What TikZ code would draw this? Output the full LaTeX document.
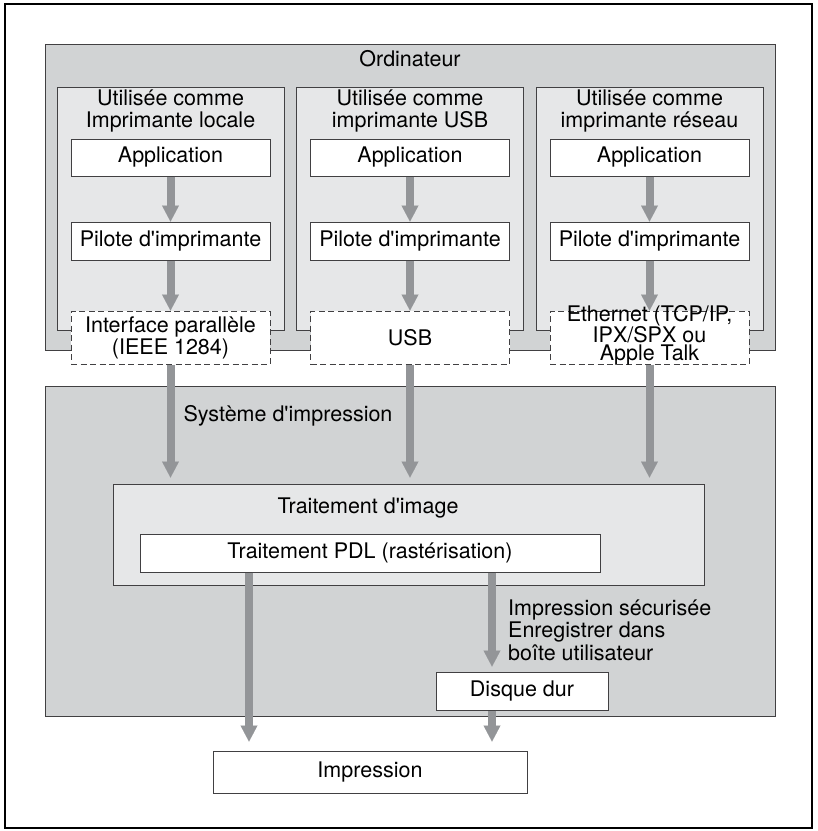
\documentclass[tikz,border=0pt]{standalone}
\usepackage{fontspec}
\newfontfamily\hv{TeX Gyre Heros}
\usetikzlibrary{arrows.meta,calc}
\definecolor{outergray}{HTML}{D1D3D4}
\definecolor{innergray}{HTML}{E6E7E8}
\definecolor{arrowgray}{HTML}{939598}
\definecolor{linegray}{HTML}{414042}
\begin{document}
\begin{tikzpicture}[x=1pt,y=-1pt,
  every node/.style={font=\hv\fontsize{21.5pt}{22pt}\selectfont, text=black, inner sep=0pt},
  panel/.style={draw=linegray, line width=1pt},
  whitebox/.style={draw=linegray, line width=1pt, fill=white},
  dashbox/.style={draw=linegray, line width=1pt, fill=white, dash pattern=on 6pt off 3.5pt},
  flow/.style={draw=arrowgray, line width=8pt, -{Triangle[length=16pt,width=17pt,line width=0.01pt]}}
]
\useasboundingbox (0,0) rectangle (818,831);
\draw[line width=1.6pt] (5,4) rectangle (812,828);

% Ordinateur
\node[panel, fill=outergray, minimum width=730pt, minimum height=306pt] (ordi) at (410,197) {};
\node (ordit) at (410,59) {Ordinateur};

\foreach \c/\x in {1/170.5, 2/410, 3/649.5} {
  \node[panel, fill=innergray, minimum width=227pt, minimum height=243pt] (col\c) at (\x,208.5) {};
  \node[whitebox, minimum width=199pt, minimum height=37pt] (app\c) at (\x,157.5) {Application};
  \node[whitebox, minimum width=199pt, minimum height=38pt] (pil\c) at (\x,241) {Pilote d'imprimante};
}
\node[align=center] (t1) at (170.5,111) {Utilisée comme\\Imprimante locale};
\node[align=center] (t2) at (410,111) {Utilisée comme\\imprimante USB};
\node[align=center] (t3) at (649.5,111) {Utilisée comme\\imprimante réseau};

\node[dashbox, minimum width=199pt, minimum height=53pt, align=center] (if1) at (170.5,337.5) {Interface parallèle\\(IEEE 1284)};
\node[dashbox, minimum width=199pt, minimum height=53pt] (if2) at (410,337.5) {USB};
\node[dashbox, minimum width=199pt, minimum height=53pt] (if3) at (649.5,337.5) {};
\node[align=center, font=\hv\fontsize{21.5pt}{17.5pt}\selectfont] (if3t) at (649.5,335) {Ethernet (TCP/IP,\\IPX/SPX ou\\Apple Talk};

% Systeme d'impression
\node[panel, fill=outergray, minimum width=730pt, minimum height=330pt] (sys) at (410,551) {};
\node (syst) at (288,416) {Système d'impression};
\node[panel, fill=innergray, minimum width=591pt, minimum height=101pt] (trait) at (408.5,534.5) {};
\node (traitt) at (368,508) {Traitement d'image};
\node[whitebox, minimum width=460pt, minimum height=38pt] (pdl) at (370,553) {Traitement PDL (rastérisation)};
\node[whitebox, minimum width=172pt, minimum height=38pt] (disk) at (522,691) {Disque dur};
\node[whitebox, minimum width=314pt, minimum height=42pt] (imp) at (370,772) {Impression};
\node[anchor=west, align=left, font=\hv\fontsize{21.5pt}{22.5pt}\selectfont] (lab) at (508,630) {Impression sécurisée\\Enregistrer dans\\boîte utilisateur};

% arrows
\foreach \c in {1,2,3} {
  \draw[flow] (app\c.south) -- (pil\c.north);
  \draw[flow] (pil\c.south) -- (if\c.north);
  \draw[flow, shorten >=6pt] (if\c.south) -- (if\c.south |- trait.north);
}
\draw[flow, shorten >=9pt] ([xshift=-121pt]pdl.south) -- ([xshift=-121pt]imp.north);
\draw[flow, shorten >=5pt] ([xshift=122pt]pdl.south) -- ([xshift=122pt]pdl.south |- disk.north);
\draw[flow, shorten >=9pt] ([xshift=-30pt]disk.south) -- ([xshift=-30pt]disk.south |- imp.north);
\end{tikzpicture}
\end{document}
